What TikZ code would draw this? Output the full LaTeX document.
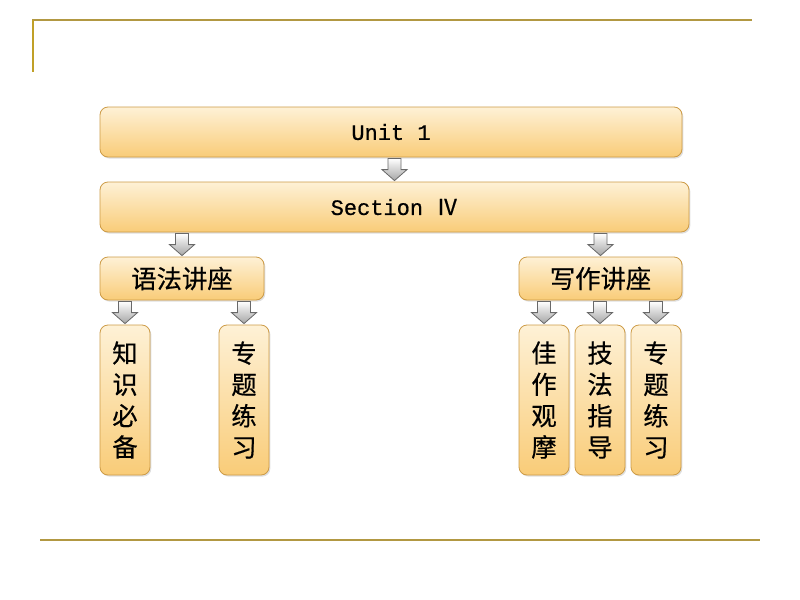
\documentclass[tikz,border=0pt]{standalone}
\usepackage{fontspec}
\setmonofont[FakeBold=0.6]{Liberation Mono}
\newfontfamily\cjk[FakeBold=0.5]{Noto Sans CJK SC}
\usetikzlibrary{calc, shadows}
\definecolor{clrLine} {RGB}{178,152, 66}
\definecolor{clrBar}  {RGB}{192,160, 40}
\definecolor{boxtop}  {RGB}{254,241,214}
\definecolor{boxbot}  {RGB}{249,204,120}
\definecolor{boxbdr}  {RGB}{205,155, 70}
\definecolor{arrbdr}  {RGB}{105,105,105}
\tikzset{
  topbox/.style={rectangle, rounded corners=6pt, draw=boxbdr, line width=0.6pt,
    top color=boxtop, bottom color=boxbot,
    drop shadow={shadow xshift=1pt, shadow yshift=-1.2pt, opacity=0.25},
    font=\fontsize{16.5}{20}\selectfont\ttfamily, minimum height=37.5pt},
  midbox/.style={topbox, font=\fontsize{19}{22}\selectfont\cjk, minimum height=32.25pt},
  colbox/.style={topbox, font=\fontsize{19}{23.5}\selectfont\cjk, align=center,
    minimum width=37.5pt, minimum height=112.5pt, inner sep=1pt},
  blkarr/.style={draw=arrbdr, line width=0.6pt, top color=white, bottom color=gray!70,
    line join=miter},
}
% block arrow from parent #1 down to child #2
\newcommand\blkdown[2]{%
  \path (#2.north |- #1.south) coordinate (bt) (#2.north) coordinate (bh);
  \draw[blkarr] ($(bt)+(-6.5,1)$) -- ($(bt)+(6.5,1)$) -- ($(bh)+(6.5,-12)$)
    -- ($(bh)+(12.5,-12)$) -- ($(bh)+(0,-1)$) -- ($(bh)+(-12.5,-12)$)
    -- ($(bh)+(-6.5,-12)$) -- cycle;}

\begin{document}
\begin{tikzpicture}[x=0.75pt, y=-0.75pt]
\useasboundingbox (0,0) rectangle (800,600);
% frame lines
\draw[clrLine, line width=1.6pt] (32,20) -- (752,20);
\draw[clrBar, line width=1.2pt] (33,20) -- (33,72);
\draw[clrLine, line width=1.6pt] (40,540) -- (760,540);
% boxes
\node[topbox, minimum width=436.5pt]  (unit) at (391,132)   {Unit 1};
\node[topbox, minimum width=441.75pt] (sec)  at (394.5,207) {Section {\cjk Ⅳ}};
\node[midbox, minimum width=123pt]    (yf)   at (182,278.5) {语法讲座};
\node[midbox, minimum width=122.25pt] (xz)   at (600.5,278.5) {写作讲座};
\node[colbox] (zs)  at (125,400) {知\\识\\必\\备};
\node[colbox] (zt1) at (244,400) {专\\题\\练\\习};
\node[colbox] (jz)  at (544,400) {佳\\作\\观\\摩};
\node[colbox] (jf)  at (600,400) {技\\法\\指\\导};
\node[colbox] (zt2) at (656,400) {专\\题\\练\\习};
% arrows
\blkdown{unit}{sec}
\blkdown{sec}{yf}
\blkdown{sec}{xz}
\blkdown{yf}{zs}
\blkdown{yf}{zt1}
\blkdown{xz}{jz}
\blkdown{xz}{jf}
\blkdown{xz}{zt2}
\end{tikzpicture}
\end{document}
